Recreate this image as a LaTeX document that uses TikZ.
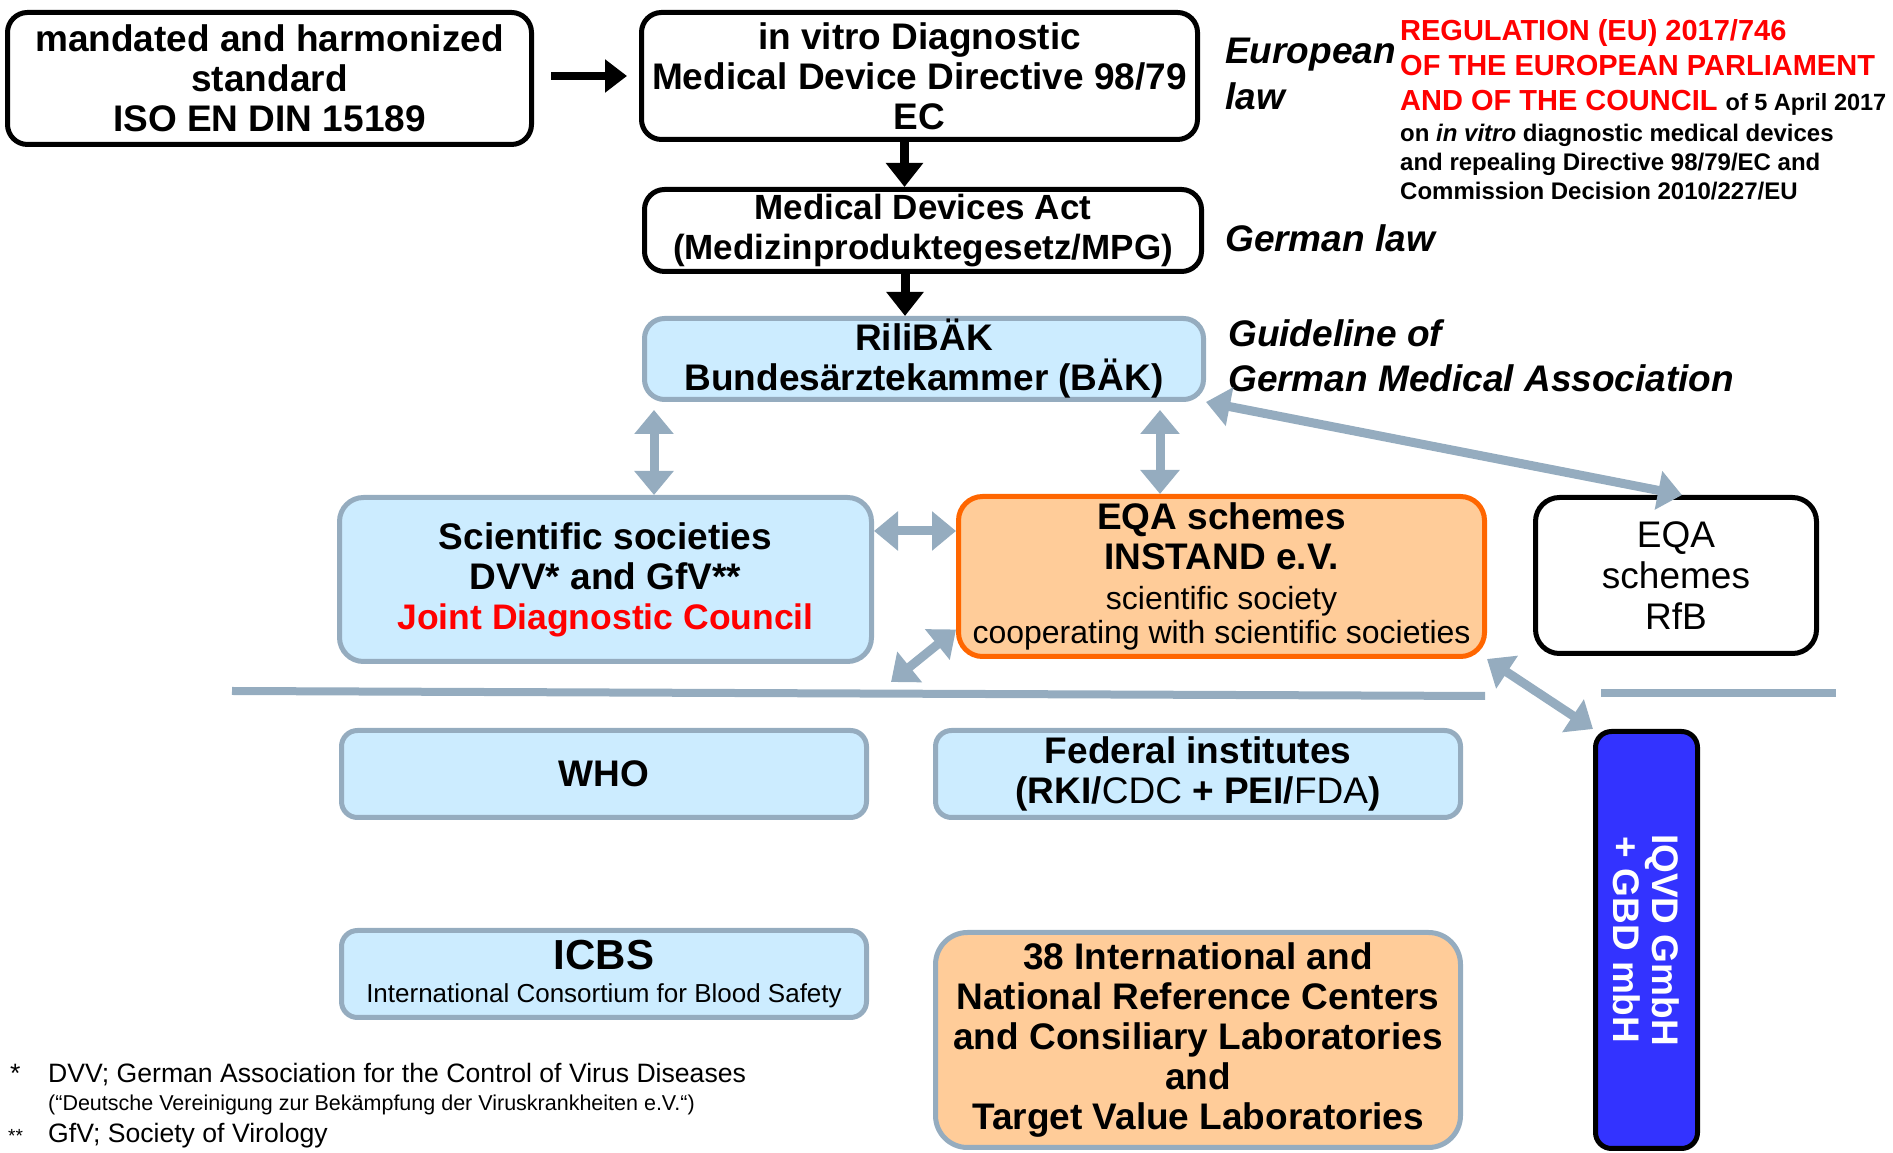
\documentclass[tikz,border=0pt]{standalone}
\usepackage{fontspec}
\setmainfont{Liberation Sans}
\usetikzlibrary{arrows.meta,positioning}
\definecolor{linkgray}{RGB}{149,172,191}
\definecolor{skyfill}{RGB}{204,236,255}
\definecolor{peach}{RGB}{255,204,153}
\definecolor{instandorange}{RGB}{255,102,0}
\definecolor{iqvdblue}{RGB}{51,51,255}
\definecolor{regred}{RGB}{255,0,0}
\tikzset{
  bigbold/.style={font=\fontsize{37bp}{40bp}\selectfont\bfseries},
  lawlabel/.style={anchor=west,align=left,inner sep=0pt,font=\fontsize{37bp}{46bp}\selectfont\bfseries\itshape},
  lawbox/.style={draw=black,line width=5bp,rounded corners=20bp,fill=white,align=center,inner sep=0pt,bigbold},
  bluebox/.style={lawbox,draw=linkgray,fill=skyfill},
  peachbox/.style={lawbox,draw=linkgray,fill=peach},
  link/.style={draw=linkgray,line width=9bp,<->},
  pusharrow/.style={draw=black,line width=9bp,-{Triangle[length=24bp,width=36bp]}},
  separator/.style={draw=linkgray,line width=8bp},
}
\begin{document}
\begin{tikzpicture}[>={Triangle[length=24bp,width=38bp]},line join=miter]
    %%
    \useasboundingbox (0bp,0bp) rectangle (1893bp,1153bp);
    % law chain
    \node (mandate) at (269.5bp,1074.5bp) [lawbox,minimum width=524bp,minimum height=132bp] {mandated and harmonized\\standard\\ISO EN DIN 15189};
    \node (ivd) at (919.5bp,1077bp) [lawbox,minimum width=556bp,minimum height=127bp] {in vitro Diagnostic\\Medical Device Directive 98/79\\EC};
    \node (mpg) at (923bp,922.5bp) [lawbox,minimum width=557bp,minimum height=82bp,font=\fontsize{35bp}{40bp}\selectfont\bfseries] {Medical Devices Act\\(Medizinproduktegesetz/MPG)};
    \node (rili) at (924bp,794bp) [bluebox,minimum width=559bp,minimum height=81bp] {RiliBÄK\\Bundesärztekammer (BÄK)};
    \node (eulaw) at (1225bp,1079.5bp) [lawlabel] {European\\law};
    \node (delaw) at (1225bp,915bp) [lawlabel] {German law};
    \node (guide) at (1228bp,797bp) [lawlabel,font=\fontsize{37bp}{45bp}\selectfont\bfseries\itshape] {Guideline of\\German Medical Association};
    \node (reg) at (1400bp,1133.5bp) [anchor=north west,align=left,inner sep=0pt,text=regred,font=\fontsize{29bp}{35bp}\selectfont\bfseries] {REGULATION (EU) 2017/746\\OF THE EUROPEAN PARLIAMENT\\AND OF THE COUNCIL {\color{black}\fontsize{23.5bp}{35bp}\selectfont of 5 April 2017}};
    \node (regsub) [below=8bp of reg.south west,anchor=north west,align=left,inner sep=0pt,font=\fontsize{24bp}{29bp}\selectfont\bfseries] {on \textit{in vitro} diagnostic medical devices\\and repealing Directive 98/79/EC and\\Commission Decision 2010/227/EU};
    % societies and schemes
    \node (sci) at (605.5bp,573.5bp) [bluebox,minimum width=532bp,minimum height=164bp,rounded corners=24bp] {Scientific societies\\DVV* and GfV**\\\textcolor{regred}{\fontsize{35.5bp}{40bp}\selectfont Joint Diagnostic Council}};
    \node (instand) at (1221.5bp,576.5bp) [lawbox,draw=instandorange,fill=peach,minimum width=526bp,minimum height=160bp,rounded corners=24bp] {EQA schemes\\INSTAND e.V.\\{\mdseries\fontsize{32bp}{40bp}\selectfont scientific society}\\[-6bp]{\mdseries\fontsize{32bp}{34bp}\selectfont cooperating with scientific societies}};
    \node (rfb) at (1676bp,577.5bp) [lawbox,minimum width=281bp,minimum height=156bp,rounded corners=24bp,font=\fontsize{37bp}{41bp}\selectfont] {EQA\\schemes\\RfB};
    % institutions
    \node (who) at (604bp,379bp) [bluebox,minimum width=525bp,minimum height=87bp,rounded corners=16bp] {WHO};
    \node (federal) at (1198bp,379bp) [bluebox,minimum width=525bp,minimum height=87bp,rounded corners=16bp] {Federal institutes\\(RKI/{\mdseries CDC} + PEI/{\mdseries FDA})};
    \node (icbs) at (604bp,179bp) [bluebox,minimum width=525bp,minimum height=87bp,rounded corners=16bp] {{\fontsize{42bp}{40bp}\selectfont ICBS}\\[-7bp]{\mdseries\fontsize{26bp}{38bp}\selectfont International Consortium for Blood Safety}};
    \node (refcenters) at (1198bp,113bp) [peachbox,minimum width=525bp,minimum height=215bp,rounded corners=32bp] {38 International and\\National Reference Centers\\and Consiliary Laboratories\\and\\Target Value Laboratories};
    \node (iqvd) at (1646.5bp,213bp) [lawbox,fill=iqvdblue,text=white,rotate=-90,minimum width=417bp,minimum height=102bp,rounded corners=16bp,font=\fontsize{37bp}{39bp}\selectfont\bfseries] {IQVD GmbH\\+ GBD mbH};
    % footnotes
    \node (fnone) at (10bp,70bp) [anchor=base west,inner sep=0pt,font=\fontsize{26.6bp}{30bp}\selectfont] {\makebox[38bp][l]{*}DVV; German Association for the Control of Virus Diseases};
    \node (fntwo) at (48bp,42bp) [anchor=base west,inner sep=0pt,font=\fontsize{21.5bp}{24bp}\selectfont] {(“Deutsche Vereinigung zur Bekämpfung der Viruskrankheiten e.V.“)};
    \node (fnthree) at (8bp,11bp) [anchor=base west,inner sep=0pt,font=\fontsize{26.6bp}{30bp}\selectfont] {\makebox[40bp][l]{\fontsize{19bp}{20bp}\selectfont **}GfV; Society of Virology};
    % separators
    \coordinate (sepa) at (232bp,462bp);
    \coordinate (sepb) at (1485bp,457bp);
    \coordinate (sepc) at (1601bp,460bp);
    \coordinate (sepd) at (1836bp,460bp);
    \draw [separator] (sepa) -- (sepb);
    \draw [separator] (sepc) -- (sepd);
    % connectors
    \draw [pusharrow,line width=8bp,-{Triangle[length=22bp,width=32bp]},shorten <=17bp,shorten >=12bp] (mandate.east |- ivd.west) -- (ivd.west);
    \draw [pusharrow] ([xshift=-15bp]ivd.south) -- ([xshift=-15bp]ivd.south |- mpg.north);
    \draw [pusharrow] ([xshift=-18bp]mpg.south) -- ([xshift=-18bp]mpg.south |- rili.north);
    \draw [link,shorten >=8bp] ([xshift=48.5bp]sci.north) -- ([xshift=48.5bp]sci.north |- rili.south);
    \draw [link,shorten >=8bp] ([xshift=-61.5bp]instand.north) -- ([xshift=-61.5bp]instand.north |- rili.south);
    \draw [link] (rili.south east) -- ([xshift=6bp]rfb.north);
    \draw [link] ([yshift=48.5bp]sci.east) -- ([yshift=45.5bp]instand.west);
    \coordinate (lowend) at (891bp,471bp);
    \draw [link] (lowend) -- ([yshift=-53bp]instand.west);
    \draw [link] (instand.south east) -- (iqvd.south west);
    %
\end{tikzpicture}
\end{document}
